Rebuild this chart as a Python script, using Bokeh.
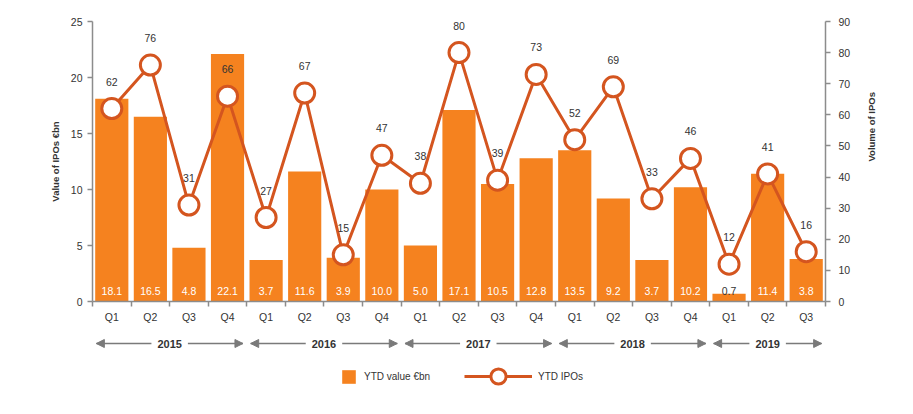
import math
from bokeh.plotting import figure
from bokeh.layouts import column
from bokeh.models import (Range1d, LinearAxis, FixedTicker, ColumnDataSource, Whisker,
                          NormalHead, Label, Legend, LegendItem)
from bokeh.embed import file_html
from bokeh.resources import INLINE

quarters = ["Q1", "Q2", "Q3", "Q4", "Q1", "Q2", "Q3", "Q4", "Q1", "Q2", "Q3", "Q4",
            "Q1", "Q2", "Q3", "Q4", "Q1", "Q2", "Q3"]
years = ["2015", "2016", "2017", "2018", "2019"]
year_counts = [4, 4, 4, 4, 3]
values = [18.1, 16.5, 4.8, 22.1, 3.7, 11.6, 3.9, 10.0, 5.0, 17.1, 10.5, 12.8,
          13.5, 9.2, 3.7, 10.2, 0.7, 11.4, 3.8]
ipos = [62, 76, 31, 66, 27, 67, 15, 47, 38, 80, 39, 73, 52, 69, 33, 46, 12, 41, 16]

BAR = "#F5821F"
LINE = "#D4551F"
GRAY = "#8C8C8C"
ARW = "#7A7A7A"
TXT = "#333333"
FONT = "Liberation Sans"

n = len(values)
xs = list(range(n))
src = ColumnDataSource(dict(
    x=xs, v=values, ipo=ipos,
    vlab=[f"{v:.1f}" for v in values],
    vcol=["white" if v > 1.5 else TXT for v in values],
    ilab=[str(i) for i in ipos],
))

xr = Range1d(-0.5, n - 0.5)
p = figure(width=913, height=326, output_backend="svg", toolbar_location=None,
           x_range=xr, y_range=Range1d(0, 25),
           min_border_left=92, min_border_right=88, min_border_top=21, min_border_bottom=25)
p.extra_y_ranges = {"ipo": Range1d(0, 90)}
p.outline_line_color = None
p.grid.visible = False

bars = p.vbar(x="x", top="v", width=0.86, source=src, fill_color=BAR, line_color=None)
ln = p.line(x="x", y="ipo", source=src, y_range_name="ipo", line_color=LINE, line_width=3)
mk = p.scatter(x="x", y="ipo", source=src, y_range_name="ipo", size=20,
               fill_color="white", line_color=LINE, line_width=3)

p.text(x="x", y=0, text="vlab", source=src, text_color="vcol", text_align="center",
       text_baseline="bottom", y_offset=-7, text_font_size="10.5px",
       text_font={"value": FONT})
p.text(x="x", y="ipo", text="ilab", source=src, y_range_name="ipo", text_color=TXT,
       text_align="center", text_baseline="bottom", y_offset=-23,
       text_font_size="10.5px", text_font={"value": FONT})

# x axis
xa = p.xaxis[0]
xa.ticker = FixedTicker(ticks=xs, minor_ticks=[i - 0.5 for i in range(n + 1)])
xa.major_label_overrides = {i: q for i, q in enumerate(quarters)}
xa.major_tick_line_color = None
xa.minor_tick_line_color = GRAY
xa.minor_tick_out = 5
xa.minor_tick_in = 0
xa.minor_tick_line_width = 1.5
xa.axis_line_color = GRAY
xa.axis_line_width = 1.5
xa.major_label_standoff = 3
xa.major_label_text_font = FONT
xa.major_label_text_font_size = "10.5px"
xa.major_label_text_color = TXT

# left axis
ya = p.yaxis[0]
ya.ticker = FixedTicker(ticks=[0, 5, 10, 15, 20, 25])
ya.minor_tick_line_color = None
ya.major_tick_out = 5
ya.major_tick_in = 0
ya.major_tick_line_color = GRAY
ya.major_tick_line_width = 1.5
ya.axis_line_color = GRAY
ya.axis_line_width = 1.5
ya.major_label_standoff = 5
ya.major_label_text_font = FONT
ya.major_label_text_font_size = "10.5px"
ya.major_label_text_color = TXT
ya.axis_label = "Value of IPOs €bn"
ya.axis_label_text_font = FONT
ya.axis_label_text_font_style = "bold"
ya.axis_label_text_font_size = "9.5px"
ya.axis_label_text_color = TXT
ya.axis_label_standoff = 7

# right axis
ra = LinearAxis(y_range_name="ipo", ticker=FixedTicker(ticks=list(range(0, 91, 10))))
ra.minor_tick_line_color = None
ra.major_tick_out = 5
ra.major_tick_in = 0
ra.major_tick_line_color = GRAY
ra.major_tick_line_width = 1.5
ra.axis_line_color = GRAY
ra.axis_line_width = 1.5
ra.major_label_standoff = 8
ra.major_label_text_font = FONT
ra.major_label_text_font_size = "10.5px"
ra.major_label_text_color = TXT
ra.axis_label = "Volume of IPOs"
ra.axis_label_orientation = math.pi / 2
ra.axis_label_text_font = FONT
ra.axis_label_text_font_style = "bold"
ra.axis_label_text_font_size = "9.5px"
ra.axis_label_text_color = TXT
ra.axis_label_standoff = 18
p.add_layout(ra, "right")

# lower strip: year groups and legend
p2 = figure(width=913, height=88, output_backend="svg", toolbar_location=None,
            x_range=xr, y_range=Range1d(0, 88), x_axis_type=None, y_axis_type=None,
            min_border_left=92, min_border_right=88, min_border_top=0, min_border_bottom=0)
p2.outline_line_color = None
p2.grid.visible = False

starts, ends, mids = [], [], []
k = 0
for c in year_counts:
    starts.append(k - 0.4)
    ends.append(k + c - 1 + 0.4)
    mids.append(k + (c - 1) / 2)
    k += c
wsrc = ColumnDataSource(dict(lower=starts, upper=ends, base=[71] * len(years)))
wh = Whisker(source=wsrc, lower="lower", upper="upper", base="base", dimension="width",
             line_color=ARW, line_width=1.5,
             lower_head=NormalHead(size=8, fill_color=ARW, line_color=ARW),
             upper_head=NormalHead(size=8, fill_color=ARW, line_color=ARW))
p2.add_layout(wh)
for yr, m in zip(years, mids):
    p2.add_layout(Label(x=m, y=71, text=yr, text_align="center", text_baseline="middle",
                        text_font=FONT, text_font_style="bold", text_font_size="11px",
                        text_color=TXT, background_fill_color="white", padding=6))

# stand-in renderers (kept outside the visible range) so the legend can draw its keys
dummy = ColumnDataSource(dict(x=[0], y=[-2000], b=[-3000]))
d_bar = p2.vbar(x="x", top="y", bottom="b", width=0.8, source=dummy, fill_color=BAR,
                line_color=None)
d_ln = p2.line(x="x", y="y", source=dummy, line_color=LINE, line_width=3)
d_mk = p2.scatter(x="x", y="y", source=dummy, size=20, fill_color="white",
                  line_color=LINE, line_width=3)

lg1 = Legend(items=[LegendItem(label="YTD value €bn", renderers=[d_bar])],
             location=(248, 29.5), glyph_width=17, glyph_height=17, label_standoff=7,
             padding=0, margin=0, border_line_color=None, background_fill_alpha=0,
             label_text_font=FONT, label_text_font_size="10px", label_text_color=TXT)
lg2 = Legend(items=[LegendItem(label="YTD IPOs", renderers=[d_ln, d_mk])],
             location=(372, 19), glyph_width=68, glyph_height=38, label_standoff=6,
             padding=0, margin=0, border_line_color=None, background_fill_alpha=0,
             label_text_font=FONT, label_text_font_size="10px", label_text_color=TXT)
p2.add_layout(lg1)
p2.add_layout(lg2)

layout = column(p, p2, spacing=0)
open("out.html", "w").write(file_html(layout, INLINE))
